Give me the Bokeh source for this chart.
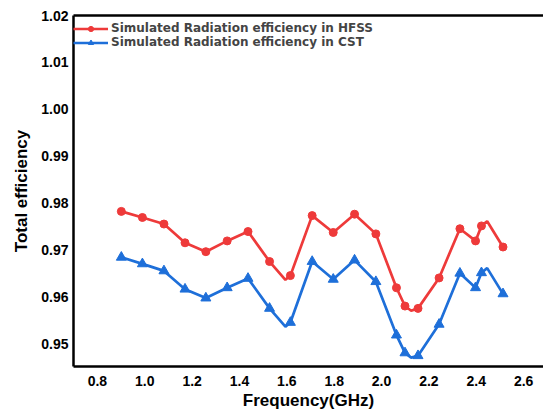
from bokeh.plotting import figure
from bokeh.models import Range1d, FixedTicker, LinearAxis, Legend, LegendItem, PrintfTickFormatter
from bokeh.embed import file_html
from bokeh.resources import INLINE

# Marker points
freq_markers = [0.901, 0.990, 1.081, 1.170, 1.258, 1.348, 1.436, 1.527, 1.615, 1.707, 1.796,
                1.886, 1.976, 2.063, 2.099, 2.154, 2.243, 2.331, 2.397, 2.422, 2.513]
hfss_markers = [0.9782, 0.9769, 0.9755, 0.9715, 0.9696, 0.9719, 0.9739, 0.9675, 0.9645, 0.9773, 0.9737,
                0.9776, 0.9734, 0.9619, 0.9580, 0.9575, 0.9640, 0.9745, 0.9719, 0.9751, 0.9706]
cst_markers = [0.9684, 0.9670, 0.9655, 0.9616, 0.9597, 0.9619, 0.9639, 0.9575, 0.9545, 0.9675, 0.9637,
               0.9678, 0.9632, 0.9518, 0.9480, 0.9474, 0.9541, 0.9650, 0.9619, 0.9651, 0.9606]

# Curve points (markers plus extra points)
freq_curve = [0.901, 0.990, 1.081, 1.170, 1.258, 1.348, 1.436, 1.527, 1.594, 1.615, 1.707, 1.796,
              1.886, 1.976, 2.063, 2.099, 2.125, 2.154, 2.243, 2.331, 2.397, 2.422, 2.446, 2.513]
hfss_curve = [0.9782, 0.9769, 0.9755, 0.9715, 0.9696, 0.9719, 0.9739, 0.9675, 0.9636, 0.9645, 0.9773, 0.9737,
              0.9776, 0.9734, 0.9619, 0.9580, 0.9570, 0.9575, 0.9640, 0.9745, 0.9719, 0.9751, 0.9761, 0.9706]
cst_curve = [0.9684, 0.9670, 0.9655, 0.9616, 0.9597, 0.9619, 0.9639, 0.9575, 0.9536, 0.9545, 0.9675, 0.9637,
             0.9678, 0.9632, 0.9518, 0.9480, 0.9470, 0.9474, 0.9541, 0.9650, 0.9619, 0.9651, 0.9661, 0.9606]

x_ticks = [0.8, 1.0, 1.2, 1.4, 1.6, 1.8, 2.0, 2.2, 2.4, 2.6]
y_ticks = [0.95, 0.96, 0.97, 0.98, 0.99, 1.00, 1.01, 1.02]

label_hfss = "Simulated Radiation efficiency in HFSS"
label_cst = "Simulated Radiation efficiency in CST"

RED = "#EE3A3A"
BLUE = "#1E6FD9"
FONT = "Liberation Sans"

p = figure(width=543, height=416, output_backend="svg", toolbar_location=None,
           x_range=Range1d(0.699, 2.684), y_range=Range1d(0.9451, 1.02),
           min_border_left=73, min_border_right=0, min_border_top=15, min_border_bottom=50)
p.grid.visible = False
p.outline_line_color = None
p.background_fill_color = "white"
p.border_fill_color = "white"

for ax in (p.xaxis[0], p.yaxis[0]):
    ax.axis_line_width = 2.5
    ax.axis_line_color = "black"
    ax.major_tick_out = 0
    ax.major_tick_in = 0
    ax.minor_tick_out = 0
    ax.minor_tick_in = 0
    ax.major_label_text_font = FONT
    ax.major_label_text_font_style = "bold"
    ax.major_label_text_font_size = "14px"
    ax.major_label_text_color = "black"
    ax.axis_label_text_font = FONT
    ax.axis_label_text_font_style = "bold"
    ax.axis_label_text_font_size = "17px"
    ax.axis_label_text_color = "black"

p.xaxis[0].ticker = FixedTicker(ticks=x_ticks)
p.xaxis[0].formatter = PrintfTickFormatter(format="%.1f")
p.xaxis[0].major_label_standoff = 9
p.xaxis[0].axis_label = "Frequency(GHz)"
p.xaxis[0].axis_label_standoff = 2

p.yaxis[0].ticker = FixedTicker(ticks=y_ticks)
p.yaxis[0].formatter = PrintfTickFormatter(format="%.2f")
p.yaxis[0].major_label_standoff = 5
p.yaxis[0].axis_label = "Total efficiency"
p.yaxis[0].axis_label_standoff = 7

top = LinearAxis(ticker=FixedTicker(ticks=[]), axis_line_width=2.5, axis_line_color="black",
                 major_tick_out=0, minor_tick_out=0, major_label_text_font_size="0px")
p.add_layout(top, "above")

l1 = p.line(freq_curve, hfss_curve, line_color=RED, line_width=2.7)
s1 = p.scatter(freq_markers, hfss_markers, marker="circle", size=8, fill_color=RED, line_color=RED)
l2 = p.line(freq_curve, cst_curve, line_color=BLUE, line_width=2.7)
s2 = p.scatter(freq_markers, cst_markers, marker="triangle", size=10, fill_color=BLUE, line_color=BLUE)

legend = Legend(items=[LegendItem(label=label_hfss, renderers=[l1, s1]),
                       LegendItem(label=label_cst, renderers=[l2, s2])],
                location=(0, 317), border_line_color=None, background_fill_alpha=0,
                label_text_font="DejaVu Sans", label_text_font_style="bold", label_text_font_size="12px",
                glyph_width=35, glyph_height=13, label_height=13, spacing=0, padding=2, margin=0,
                label_standoff=3)
p.add_layout(legend)

open("out.html", "w").write(file_html(p, INLINE))
